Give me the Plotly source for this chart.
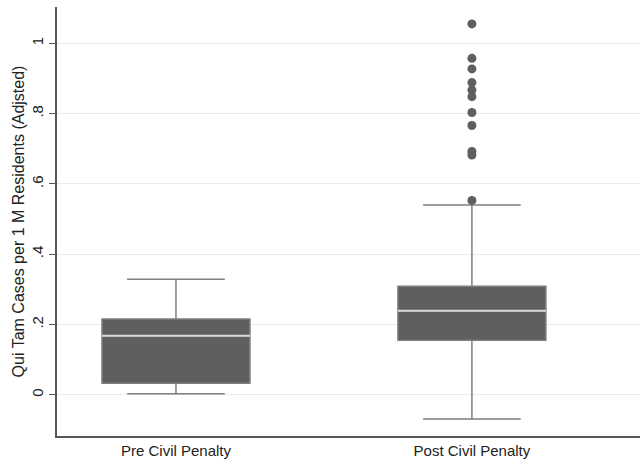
import plotly.graph_objects as go

categories = ["Pre Civil Penalty", "Post Civil Penalty"]
q1 = [0.033, 0.155]
median = [0.168, 0.239]
q3 = [0.216, 0.309]
lower_whisker = [0.003, -0.069]
upper_whisker = [0.329, 0.540]
outliers_post = [0.553, 0.682, 0.692, 0.766, 0.803, 0.848, 0.867, 0.888, 0.927, 0.957, 1.055]

y_ticks = [0, 0.2, 0.4, 0.6, 0.8, 1.0]
y_tick_labels = ["0", ".2", ".4", ".6", ".8", "1"]

BOX_W = 0.5
fig = go.Figure()
for i, cat in enumerate(categories):
    fig.add_trace(go.Box(
        x=[i], q1=[q1[i]], median=[median[i]], q3=[q3[i]],
        lowerfence=[lower_whisker[i]], upperfence=[upper_whisker[i]],
        width=BOX_W, whiskerwidth=0.66, boxpoints=False,
        fillcolor="#5f5f5f", line=dict(color="#7f7f7f", width=1.5),
        showlegend=False, hoverinfo="skip",
    ))
    # median line overlay (light)
    fig.add_trace(go.Scatter(
        x=[i - BOX_W / 2, i + BOX_W / 2], y=[median[i], median[i]],
        mode="lines", line=dict(color="#dcdcdc", width=2),
        showlegend=False, hoverinfo="skip",
    ))

fig.add_trace(go.Scatter(
    x=[1] * len(outliers_post), y=outliers_post, mode="markers",
    marker=dict(color="#5f5f5f", size=9), showlegend=False,
))

fig.update_layout(
    width=640, height=464,
    margin=dict(l=57, r=0, t=7, b=28),
    paper_bgcolor="white", plot_bgcolor="white",
    font=dict(family="Liberation Sans, Arial, sans-serif", size=15, color="#222"),
)
fig.update_xaxes(
    range=[-0.402, 1.568], tickvals=[0, 1], ticktext=categories,
    showgrid=False, zeroline=False, showline=True, linecolor="#555", linewidth=1.5,
    ticks="", tickfont=dict(size=15),
)
fig.update_yaxes(
    range=[-0.117, 1.103], tickvals=y_ticks, ticktext=y_tick_labels,
    tickangle=-90, showgrid=True, gridcolor="#ebebeb", gridwidth=1.2,
    zeroline=False, showline=True, linecolor="#555", linewidth=1.5,
    ticks="outside", ticklen=6, tickcolor="#555", tickfont=dict(size=15),
    title=dict(text="Qui Tam Cases per 1 M Residents (Adjsted)", font=dict(size=16), standoff=1),
)

fig.write_html("out.html")
